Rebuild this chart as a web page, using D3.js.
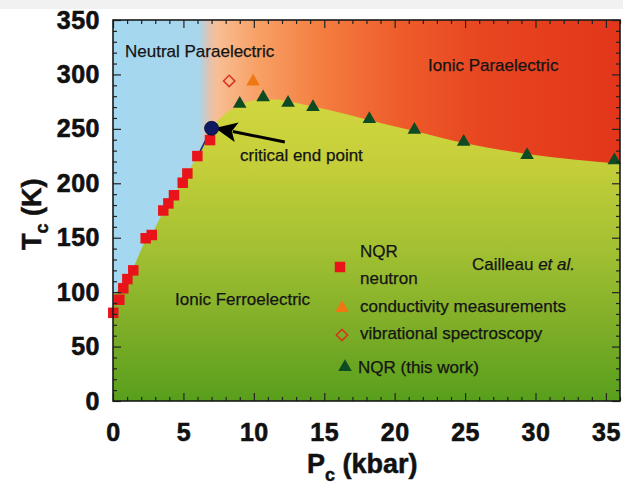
<!DOCTYPE html>
<html><head><meta charset="utf-8">
<script src="https://cdn.jsdelivr.net/npm/d3@7"></script>
<style>body{margin:0;background:#fff}svg{display:block}</style>
</head><body>
<svg id="c" width="623" height="484"></svg>
<script>
// ---- data ----
const cailleauP = [0.02, 0.45, 0.73, 1.02, 1.44, 2.32, 2.75, 3.57, 3.93, 4.33, 4.95, 5.28, 5.99, 6.89];
const cailleauT = [81, 93, 103.5, 112, 120, 149.5, 152.5, 175, 181.5, 189, 200.5, 209, 225, 239.7];
const conductP = [9.95];
const conductT = [293.5];
const vibP = [8.25];
const vibT = [294];
const nqrP = [9.0, 10.66, 12.43, 14.2, 18.2, 21.4, 24.9, 29.4, 35.6];
const nqrT = [273, 279, 274, 270, 259, 249, 238, 226, 221];
const critP = [7.0];
const critT = [250.5];
// phase boundaries
const ionicBoundP = [7, 7.8, 8.7, 10, 11.5, 13.3, 15.4, 18.2, 21.4, 24.9, 29.4, 36];
const ionicBoundT = [250, 262, 270, 276, 277, 273, 267, 258, 248, 237, 227, 218];
const neutralBoundP = [0, 0.7, 1.4, 2.3, 2.8, 3.6, 4.4, 5.0, 5.3, 6.0, 7.0];
const neutralBoundT = [97, 106, 121, 148, 154, 175, 191, 202, 210, 225, 250];
const xTicks = [0, 5, 10, 15, 20, 25, 30, 35];
const yTicks = [0, 50, 100, 150, 200, 250, 300, 350];
const legendLabels = ["NQR", "neutron", "conductivity measurements", "vibrational spectroscopy", "NQR (this work)"];

const svg = d3.select("#c");
const FONT = "'Liberation Sans', Arial, Helvetica, sans-serif";
const L = 113, R = 620, T = 20, B = 401;
const x = d3.scaleLinear().domain([0, 36]).range([L, R]);
const y = d3.scaleLinear().domain([0, 350]).range([B, T]);

svg.append("rect").attr("x", 0).attr("y", 0).attr("width", 623).attr("height", 9).attr("fill", "#f1f1f1");

const defs = svg.append("defs");
const gTop = defs.append("linearGradient").attr("id", "gTop").attr("gradientUnits", "userSpaceOnUse")
  .attr("x1", L).attr("x2", R).attr("y1", 0).attr("y2", 0);
[[113, "#a3d8f0"], [199, "#a8d6ec"], [208, "#dcc4b6"], [217, "#f8be94"], [255, "#f8a268"],
 [320, "#f47e40"], [400, "#ee5c2a"], [480, "#e84621"], [620, "#e2361a"]]
  .forEach(([px, c]) => gTop.append("stop").attr("offset", (px - L) / (R - L)).attr("stop-color", c));
const gFe = defs.append("linearGradient").attr("id", "gFe").attr("gradientUnits", "userSpaceOnUse")
  .attr("x1", 0).attr("x2", 0).attr("y1", 100).attr("y2", B);
[[100, "#d0d63e"], [160, "#c6cf3a"], [250, "#a2c032"], [326, "#7fae28"], [401, "#589f1c"]]
  .forEach(([py, c]) => gFe.append("stop").attr("offset", (py - 100) / (B - 100)).attr("stop-color", c));
defs.append("clipPath").attr("id", "clip").append("rect").attr("x", L).attr("y", T).attr("width", R - L).attr("height", B - T);

const bg = svg.append("g").attr("clip-path", "url(#clip)");
bg.append("rect").attr("x", L).attr("y", T).attr("width", R - L).attr("height", B - T).attr("fill", "url(#gTop)");

// ferroelectric region polygon
const neutralPts = neutralBoundP.map((p, i) => [x(p), y(neutralBoundT[i])]);
const ionicPts = ionicBoundP.map((p, i) => [x(p), y(ionicBoundT[i])]);
const upper = d3.line().curve(d3.curveMonotoneX)(ionicPts);
let d = "M" + x(0) + "," + y(0) + "L" + neutralPts.map(p => p.join(",")).join("L");
d += upper.replace(/^M[^CL]*/, "L" + ionicPts[0].join(","));
d += "L" + x(36) + "," + y(0) + "Z";
bg.append("path").attr("d", d).attr("fill", "url(#gFe)");

// line to critical point
bg.append("line").attr("x1", x(critP[0])).attr("y1", y(critT[0])).attr("x2", x(5.9)).attr("y2", y(222))
  .attr("stroke", "#1c2f7a").attr("stroke-width", 1.6);

// arrow
const arrFrom = [x(12.2), y(238)], arrTo = [x(7.25), y(250.8)];
const ang = Math.atan2(arrTo[1] - arrFrom[1], arrTo[0] - arrFrom[0]);
const hl = 22, hw = 10;
const base = [arrTo[0] - hl * Math.cos(ang), arrTo[1] - hl * Math.sin(ang)];
svg.append("line").attr("x1", arrFrom[0]).attr("y1", arrFrom[1]).attr("x2", base[0] + 4 * Math.cos(ang)).attr("y2", base[1] + 4 * Math.sin(ang))
  .attr("stroke", "#000").attr("stroke-width", 3);
const nx = -Math.sin(ang), ny = Math.cos(ang);
svg.append("path").attr("d", `M${arrTo[0]},${arrTo[1]}L${base[0] + hw * nx},${base[1] + hw * ny}L${base[0] + 5 * Math.cos(ang)},${base[1] + 5 * Math.sin(ang)}L${base[0] - hw * nx},${base[1] - hw * ny}Z`)
  .attr("fill", "#000");

// markers
const sq = d3.symbol().type(d3.symbolSquare).size(110)();
const tri = d3.symbol().type(d3.symbolTriangle).size(80)();
const dia = d3.symbol().type(d3.symbolSquare).size(64)();
const mk = svg.append("g");
mk.selectAll(".sq").data(cailleauP).join("path").attr("d", sq)
  .attr("transform", (p, i) => `translate(${x(p)},${y(cailleauT[i])})`).attr("fill", "#e8141a");
mk.selectAll(".co").data(conductP).join("path").attr("d", tri)
  .attr("transform", (p, i) => `translate(${x(p)},${y(conductT[i])})`).attr("fill", "#f07812");
mk.selectAll(".vi").data(vibP).join("path").attr("d", dia)
  .attr("transform", (p, i) => `translate(${x(p)},${y(vibT[i])}) rotate(45)`).attr("fill", "none").attr("stroke", "#d8321e").attr("stroke-width", 1.5);
mk.selectAll(".nq").data(nqrP).join("path").attr("d", tri)
  .attr("transform", (p, i) => `translate(${x(p)},${y(nqrT[i])})`).attr("fill", "#0e4a22");
mk.selectAll(".cr").data(critP).join("circle").attr("cx", p => x(p)).attr("cy", (p, i) => y(critT[i])).attr("r", 7)
  .attr("fill", "#0f1a62").attr("stroke", "#050a30").attr("stroke-width", 0.8);

// texts
const txt = (tx, ty, s, opt = {}) => svg.append("text").attr("x", tx).attr("y", ty).text(s)
  .attr("font-family", FONT).attr("font-size", opt.fs || 17).attr("fill", "#141414")
  .attr("stroke", "#141414").attr("stroke-width", 0.25)
  .attr("font-weight", opt.fw || "normal").attr("text-anchor", opt.anchor || "start");
txt(125, 57, "Neutral Paraelectric");
txt(428, 71, "Ionic Paraelectric");
txt(175, 305, "Ionic Ferroelectric");
txt(240, 161, "critical end point");
const cai = txt(472, 270, "Cailleau ");
cai.append("tspan").attr("font-style", "italic").text("et al.");

// legend
const lg = svg.append("g");
lg.append("path").attr("d", sq).attr("transform", "translate(340,267)").attr("fill", "#e8141a");
lg.append("path").attr("d", tri).attr("transform", "translate(342,308)").attr("fill", "#f07812");
lg.append("path").attr("d", dia).attr("transform", "translate(342,335) rotate(45)").attr("fill", "none").attr("stroke", "#d8321e").attr("stroke-width", 1.5);
lg.append("path").attr("d", tri).attr("transform", "translate(345,367)").attr("fill", "#0e4a22");
[[360, 257], [360, 284], [360, 312], [360, 339], [358, 373]].forEach(([lx, ly], i) => txt(lx, ly, legendLabels[i]));

// axes
const styleAxis = g => {
  g.select(".domain").remove();
  g.selectAll("line").attr("stroke", "#222").attr("stroke-width", 1.2);
  g.selectAll("text").attr("font-family", FONT).attr("font-weight", "bold").attr("font-size", 25)
    .attr("fill", "#111").attr("stroke", "#111").attr("stroke-width", 0.6).attr("letter-spacing", 0.5);
};
const xMinor = d3.range(0, 37).filter(v => v % 5 !== 0);
const yMinor = d3.range(0, 351, 10).filter(v => v % 50 !== 0);
svg.append("g").attr("transform", `translate(0,${B})`).call(d3.axisBottom(x).tickValues(xTicks).tickSize(-8).tickPadding(22)).call(styleAxis);
svg.append("g").attr("transform", `translate(0,${B})`).call(d3.axisBottom(x).tickValues(xMinor).tickSize(-4).tickFormat(() => "")).call(styleAxis);
svg.append("g").attr("transform", `translate(0,${T})`).call(d3.axisTop(x).tickValues(xTicks).tickSize(-8).tickFormat(() => "")).call(styleAxis);
svg.append("g").attr("transform", `translate(0,${T})`).call(d3.axisTop(x).tickValues(xMinor).tickSize(-4).tickFormat(() => "")).call(styleAxis);
svg.append("g").attr("transform", `translate(${L},0)`).call(d3.axisLeft(y).tickValues(yTicks).tickSize(-8).tickPadding(13)).call(styleAxis);
svg.append("g").attr("transform", `translate(${L},0)`).call(d3.axisLeft(y).tickValues(yMinor).tickSize(-4).tickFormat(() => "")).call(styleAxis);
svg.append("g").attr("transform", `translate(${R},0)`).call(d3.axisRight(y).tickValues(yTicks).tickSize(-8).tickFormat(() => "")).call(styleAxis);
svg.append("g").attr("transform", `translate(${R},0)`).call(d3.axisRight(y).tickValues(yMinor).tickSize(-4).tickFormat(() => "")).call(styleAxis);
svg.append("rect").attr("x", L).attr("y", T).attr("width", R - L).attr("height", B - T)
  .attr("fill", "none").attr("stroke", "#1a1a1a").attr("stroke-width", 1.6);

// axis titles
const xl = svg.append("text").attr("x", 307).attr("y", 473).attr("font-family", FONT).attr("font-weight", "bold").attr("font-size", 27)
  .attr("fill", "#111").attr("stroke", "#111").attr("stroke-width", 0.5);
xl.append("tspan").text("P");
xl.append("tspan").attr("font-size", 18).attr("dy", 8).text("c");
xl.append("tspan").attr("dy", -8).text(" (kbar)");
const yl = svg.append("text").attr("transform", "translate(41,250) rotate(-90)").attr("font-family", FONT).attr("font-weight", "bold").attr("font-size", 27)
  .attr("fill", "#111").attr("stroke", "#111").attr("stroke-width", 0.5);
yl.append("tspan").text("T");
yl.append("tspan").attr("font-size", 18).attr("dy", 7).text("c");
yl.append("tspan").attr("dy", -7).text(" (K)");
</script>
</body></html>
